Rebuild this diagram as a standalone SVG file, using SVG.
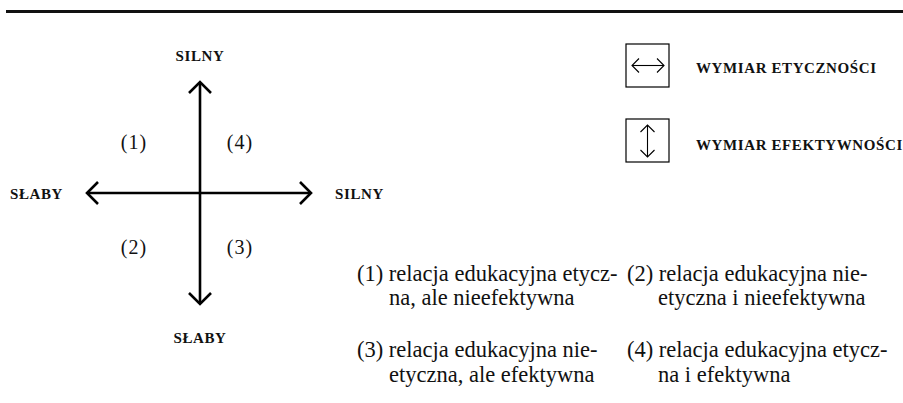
<svg xmlns="http://www.w3.org/2000/svg" width="903" height="403" viewBox="0 0 903 403">
<style>
.sc{font-family:"Liberation Serif",serif;font-weight:bold;font-size:15px;letter-spacing:0.6px;fill:#111}
.num{font-family:"Liberation Serif",serif;font-size:20px;letter-spacing:1px;fill:#111}
.body{font-family:"Liberation Serif",serif;font-size:22.5px;fill:#111}
.ax{stroke:#000;stroke-width:2.6;fill:none;stroke-linecap:butt}
.hd{stroke:#000;stroke-width:2.6;fill:none;stroke-linejoin:miter}
.box{stroke:#000;stroke-width:1.2;fill:#fff}
.thin{stroke:#000;stroke-width:1.1;fill:none}
</style>
<line x1="6" y1="11.5" x2="903" y2="11.5" stroke="#111" stroke-width="3"/>
<g id="connectors">
<line class="ax" x1="200" y1="83" x2="200" y2="303"/>
<line class="ax" x1="88" y1="193" x2="310" y2="193"/>
<polyline class="hd" points="189,93 200,82 211,93"/>
<polyline class="hd" points="189,293 200,304 211,293"/>
<polyline class="hd" points="98,182 87,193 98,204"/>
<polyline class="hd" points="300,182 311,193 300,204"/>
</g>
<g id="label-top"><text class="sc" x="200" y="61" text-anchor="middle">SILNY</text></g>
<g id="label-bottom"><text class="sc" x="200" y="343" text-anchor="middle">SŁABY</text></g>
<g id="label-left"><text class="sc" x="10" y="199">SŁABY</text></g>
<g id="label-right"><text class="sc" x="335" y="199">SILNY</text></g>
<g id="q1"><text class="num" x="134" y="149" text-anchor="middle">(1)</text></g>
<g id="q4"><text class="num" x="240" y="149" text-anchor="middle">(4)</text></g>
<g id="q2"><text class="num" x="134" y="254" text-anchor="middle">(2)</text></g>
<g id="q3"><text class="num" x="240" y="254" text-anchor="middle">(3)</text></g>
<g id="legend-ethics">
<rect class="box" x="626" y="44" width="43" height="43"/>
<line class="thin" x1="632" y1="65.5" x2="664" y2="65.5"/>
<polyline class="thin" points="639,58.5 632,65.5 639,72.5"/>
<polyline class="thin" points="657,58.5 664,65.5 657,72.5"/>
<text class="sc" x="696" y="73">WYMIAR ETYCZNOŚCI</text>
</g>
<g id="legend-effect">
<rect class="box" x="626" y="119" width="43" height="43"/>
<line class="thin" x1="647.5" y1="125" x2="647.5" y2="157"/>
<polyline class="thin" points="640.5,132 647.5,125 654.5,132"/>
<polyline class="thin" points="640.5,150 647.5,157 654.5,150"/>
<text class="sc" x="696" y="150">WYMIAR EFEKTYWNOŚCI</text>
</g>
<g id="desc1">
<text class="body" x="357" y="281">(1) relacja edukacyjna etycz-</text>
<text class="body" x="389" y="305">na, ale nieefektywna</text>
</g>
<g id="desc2">
<text class="body" x="627" y="281">(2) relacja edukacyjna nie-</text>
<text class="body" x="658" y="305">etyczna i nieefektywna</text>
</g>
<g id="desc3">
<text class="body" x="357" y="357">(3) relacja edukacyjna nie-</text>
<text class="body" x="389" y="382">etyczna, ale efektywna</text>
</g>
<g id="desc4">
<text class="body" x="627" y="357">(4) relacja edukacyjna etycz-</text>
<text class="body" x="658" y="382">na i efektywna</text>
</g>
</svg>
